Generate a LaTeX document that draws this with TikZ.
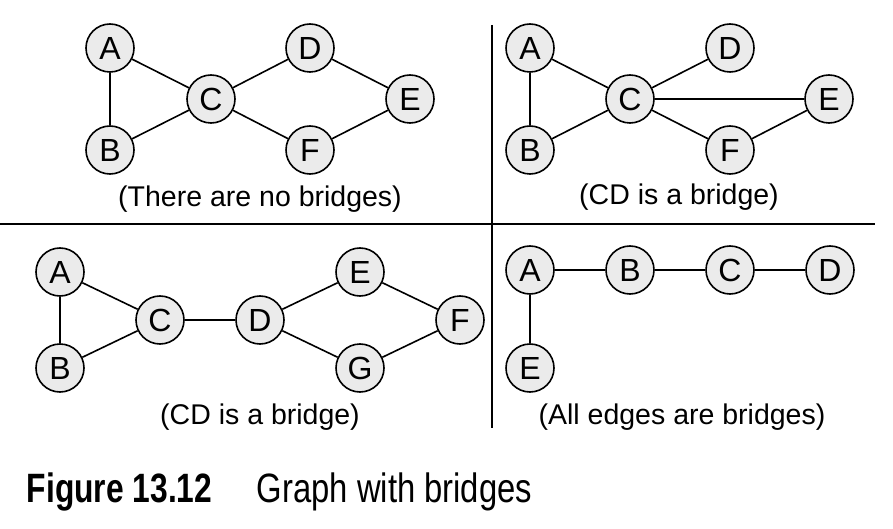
\documentclass[tikz,border=0pt]{standalone}
\usepackage{fontspec}
\setmainfont{Liberation Sans}
\newfontfamily\capboldfont[FakeStretch=0.775]{Liberation Sans Bold}
\newfontfamily\capfont[FakeStretch=0.80]{Liberation Sans}
\usetikzlibrary{positioning}
\definecolor{vfill}{HTML}{EBEBEB}

\begin{document}
\begin{tikzpicture}[x=1pt, y=-1pt, line width=1.6pt,
  vertex/.style={circle, draw, fill=vfill, minimum size=48pt, inner sep=0pt, font=\fontsize{32}{34}\selectfont},
  note/.style={anchor=base, font=\fontsize{28.5}{30}\selectfont}]
  \useasboundingbox (0,0) rectangle (893,529);
  % dividing lines
  \coordinate (vtop) at (492,25);
  \coordinate (vbot) at (492,428);
  \coordinate (hl) at (0,224);
  \coordinate (hr) at (875,224);
  \draw (vtop) -- (vbot);
  \draw (hl) -- (hr);
  % top left
  \node[vertex] (tlA) at (110,48) {A};
  \node[vertex] (tlB) at (110,150) {B};
  \node[vertex] (tlC) at (211,99) {C};
  \node[vertex] (tlD) at (310,48) {D};
  \node[vertex] (tlE) at (410,99) {E};
  \node[vertex] (tlF) at (310,150) {F};
  \draw (tlA) -- (tlB) -- (tlC) -- (tlA);
  \draw (tlC) -- (tlD) -- (tlE) -- (tlF) -- (tlC);
  \node[note] (tlnote) at (260,207) {(There are no bridges)};
  % top right
  \node[vertex] (trA) at (530,48) {A};
  \node[vertex] (trB) at (530,150) {B};
  \node[vertex] (trC) at (630,99) {C};
  \node[vertex] (trD) at (730,48) {D};
  \node[vertex] (trE) at (829,99) {E};
  \node[vertex] (trF) at (730,150) {F};
  \draw (trA) -- (trB) -- (trC) -- (trA);
  \draw (trC) -- (trD);
  \draw (trC) -- (trE) -- (trF) -- (trC);
  \node[note] (trnote) at (679,205) {(CD is a bridge)};
  % bottom left
  \node[vertex] (blA) at (60,272) {A};
  \node[vertex] (blB) at (60,368) {B};
  \node[vertex] (blC) at (160,320) {C};
  \node[vertex] (blD) at (260,320) {D};
  \node[vertex] (blE) at (360,272) {E};
  \node[vertex] (blF) at (460,320) {F};
  \node[vertex] (blG) at (360,368) {G};
  \draw (blA) -- (blB) -- (blC) -- (blA);
  \draw (blC) -- (blD);
  \draw (blD) -- (blE) -- (blF) -- (blG) -- (blD);
  \node[note] (blnote) at (260,424) {(CD is a bridge)};
  % bottom right
  \node[vertex] (brA) at (530,270) {A};
  \node[vertex] (brB) at (630,270) {B};
  \node[vertex] (brC) at (730,270) {C};
  \node[vertex] (brD) at (830,270) {D};
  \node[vertex] (brE) at (530,368) {E};
  \draw (brA) -- (brB) -- (brC) -- (brD);
  \draw (brA) -- (brE);
  \node[note] (brnote) at (682,424) {(All edges are bridges)};
  % caption
  \node[anchor=base west, inner sep=0pt, font=\capboldfont\fontsize{41}{44}\selectfont] (capnum) at (26,502) {Figure 13.12};
  \node[inner sep=0pt, font=\capfont\fontsize{41}{44}\selectfont, right=43pt of capnum.base east, anchor=base west] (captext) {Graph with bridges};
\end{tikzpicture}
\end{document}
